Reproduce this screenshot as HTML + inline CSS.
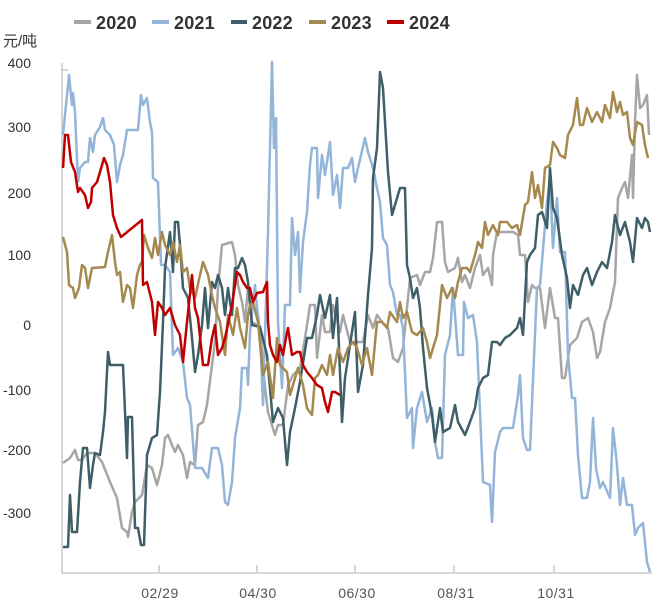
<!DOCTYPE html>
<html><head><meta charset="utf-8"><style>
html,body{margin:0;padding:0;background:#fff;}
svg{display:block;}
text{font-family:"Liberation Sans","Noto Sans CJK SC",sans-serif;}
</style></head><body>
<svg width="663" height="604" viewBox="0 0 663 604" xmlns="http://www.w3.org/2000/svg">
<rect width="663" height="604" fill="#fff"/>
<g font-size="18" font-weight="bold" fill="#333" letter-spacing="0.2">
<line x1="74" y1="22" x2="91" y2="22" stroke="#a6a6a6" stroke-width="4"/><text x="96" y="29">2020</text>
<line x1="152" y1="22" x2="169" y2="22" stroke="#93b5d9" stroke-width="4"/><text x="174" y="29">2021</text>
<line x1="231" y1="22" x2="247" y2="22" stroke="#3f5f68" stroke-width="4"/><text x="252" y="29">2022</text>
<line x1="309" y1="22" x2="326" y2="22" stroke="#a6894f" stroke-width="4"/><text x="331" y="29">2023</text>
<line x1="387" y1="22" x2="404" y2="22" stroke="#c00000" stroke-width="4"/><text x="409" y="29">2024</text>
</g>
<text x="3" y="46" font-size="15" fill="#333">元/吨</text>
<g font-size="14" fill="#333" text-anchor="end">
<text x="31" y="68">400</text><text x="31" y="132">300</text><text x="31" y="198">200</text>
<text x="31" y="260">100</text><text x="31" y="330">0</text><text x="31" y="395">-100</text>
<text x="31" y="455">-200</text><text x="31" y="518">-300</text>
</g>
<g stroke="#c8c8c8" stroke-width="1.5" fill="none">
<line x1="62" y1="63" x2="62" y2="573"/>
<line x1="62" y1="573" x2="652" y2="573"/>
<line x1="62" y1="70" x2="68" y2="70"/>
<line x1="159" y1="565" x2="159" y2="573"/><line x1="257" y1="565" x2="257" y2="573"/>
<line x1="355" y1="565" x2="355" y2="573"/><line x1="454" y1="565" x2="454" y2="573"/>
<line x1="554" y1="565" x2="554" y2="573"/>
</g>
<g font-size="14" fill="#555" text-anchor="middle" letter-spacing="0.5">
<text x="160" y="598">02/29</text><text x="258" y="598">04/30</text><text x="357" y="598">06/30</text>
<text x="456" y="598">08/31</text><text x="556" y="598">10/31</text>
</g>
<g fill="none" stroke-width="2.5" stroke-linejoin="round">
<polyline stroke="#a6a6a6" points="63,463 70,458 75,450 78,460 82,460 87,453 95,453 102,462 110,482 117,498 122,528 127,532 128,537 132,512 135,502 142,495 147,465 152,468 157,485 162,465 165,438 168,435 172,445 175,452 178,445 183,455 187,478 190,462 195,465 198,425 203,422 207,405 212,365 215,342 218,288 222,245 232,242 235,255 238,285 242,302 245,322 248,288 252,322 260,327 265,388 268,412 275,435 278,425 283,425 288,385 293,375 300,368 305,338 310,305 315,305 317,358 322,315 325,332 330,332 333,305 340,332 343,315 350,342 363,342 368,315 373,328 377,315 382,322 388,328 393,358 398,362 403,348 410,278 417,275 420,285 425,272 430,272 433,258 437,222 442,222 445,262 448,272 455,268 458,258 462,282 465,275 470,288 475,268 480,255 483,275 488,268 492,285 493,255 497,232 513,232 518,235 520,255 525,255 528,302 532,285 535,288 540,288 545,328 550,288 555,318 558,318 562,378 565,378 570,345 577,338 582,322 588,318 593,332 597,358 600,352 605,322 610,308 615,282 618,198 622,188 625,182 628,198 632,155 633,198 635,122 637,75 640,108 643,105 647,95 649,135"/>
<polyline stroke="#93b5d9" points="63,135 69,75 72,105 73,93 75,112 78,182 80,168 85,162 88,162 90,138 93,152 95,135 100,127 103,118 105,130 110,135 114,145 117,182 120,165 123,155 127,130 138,130 141,95 143,105 147,98 150,122 152,132 153,178 158,182 161,265 165,265 170,272 173,355 178,348 183,362 187,398 190,405 195,468 202,468 208,478 212,448 218,448 222,465 225,502 228,505 232,482 235,438 240,408 242,368 247,368 248,385 250,332 255,285 257,308 260,330 263,405 268,232 272,62 274,148 276,118 278,322 282,388 285,305 290,305 292,218 295,255 298,232 300,292 303,242 307,212 310,165 312,148 317,148 318,198 322,155 325,175 330,142 333,195 337,175 340,208 343,168 348,168 352,158 355,182 358,168 365,138 368,152 373,168 377,188 380,202 383,238 387,245 390,285 393,292 397,315 400,315 403,328 407,418 412,408 413,448 417,408 422,392 427,422 432,408 435,442 438,458 442,458 445,355 450,335 453,288 458,355 463,355 464,302 468,318 473,315 477,342 483,482 490,485 492,522 495,452 500,432 503,428 513,428 518,395 520,375 523,438 527,450 530,450 537,288 540,285 547,202 550,178 553,248 557,198 560,252 565,252 568,355 572,398 575,398 578,455 582,498 587,498 590,482 593,418 596,468 600,488 603,482 610,498 613,428 617,465 620,505 623,478 627,505 632,505 635,535 638,528 643,523 647,562 650,572"/>
<polyline stroke="#3f5f68" points="63,547 68,547 70,495 72,532 77,532 80,482 83,448 87,448 90,488 93,465 95,453 100,455 103,432 105,412 108,352 110,365 123,365 127,458 128,417 132,417 135,528 138,528 141,545 144,545 147,455 152,438 157,435 160,392 163,322 165,268 170,232 173,272 175,222 178,222 180,245 183,288 188,298 192,338 195,372 198,355 202,325 205,288 208,328 212,282 215,288 218,275 222,288 225,315 228,288 232,315 235,268 238,268 242,258 245,265 248,282 252,325 260,327 267,355 273,422 278,408 283,418 287,465 290,432 295,408 300,382 307,338 312,338 317,315 320,295 325,318 330,295 333,338 337,298 342,422 345,378 350,345 355,312 358,392 363,365 368,295 372,248 373,178 377,148 380,72 383,88 385,122 388,172 392,215 395,205 400,188 405,188 407,265 410,278 413,298 417,288 420,308 423,348 427,388 432,415 435,442 440,408 443,432 450,428 455,405 458,422 465,435 470,422 475,408 478,388 483,378 488,375 492,342 497,342 500,345 505,338 510,335 517,328 520,318 523,335 527,262 530,255 535,248 538,215 542,212 547,228 550,168 553,208 557,218 562,255 567,278 570,308 573,285 578,295 583,275 587,268 592,285 597,272 602,262 607,268 612,242 615,215 620,235 625,222 630,242 633,262 637,218 642,228 645,218 648,222 650,232"/>
<polyline stroke="#a6894f" points="63,237 67,252 69,285 73,288 75,298 79,288 82,265 85,268 88,288 92,268 105,267 108,252 112,235 115,262 117,275 120,272 123,302 127,285 130,288 133,308 137,275 140,265 142,262 144,235 148,248 152,258 155,238 158,255 162,232 165,245 170,255 173,242 177,262 180,245 183,272 187,268 190,288 195,298 200,275 203,262 208,275 212,295 215,308 220,322 225,355 228,315 233,335 237,308 240,328 245,348 248,315 250,305 253,302 258,322 263,375 268,362 273,398 277,338 280,365 287,372 290,395 293,385 298,368 303,385 307,408 312,415 315,378 318,375 322,365 327,375 330,355 333,375 338,348 343,362 348,348 353,342 357,348 362,365 367,348 372,375 377,322 382,322 387,328 390,312 397,322 400,302 403,318 407,312 412,332 417,335 423,328 427,342 430,358 433,348 437,335 442,285 447,298 452,288 455,298 458,282 462,268 467,268 470,272 475,255 478,242 482,248 485,222 488,235 493,225 498,235 500,222 507,222 512,228 517,225 520,235 525,205 528,202 532,172 535,198 538,185 542,208 545,168 550,165 553,142 557,148 560,155 565,158 568,135 573,125 577,98 580,125 583,125 587,108 592,122 597,112 602,122 605,105 610,118 613,92 617,112 620,102 623,115 627,112 630,138 633,145 637,122 642,125 645,145 648,158"/>
<polyline stroke="#c00000" points="63,168 65,135 68,135 71,162 75,172 78,192 80,188 85,195 88,208 91,202 92,188 97,182 100,172 102,165 104,158 107,165 110,182 113,215 117,228 121,237 142,220 143,285 147,282 152,302 155,335 158,302 162,308 165,315 170,308 175,325 180,335 183,362 187,322 192,275 195,308 198,318 203,365 208,365 212,338 215,325 218,355 222,348 225,338 232,305 237,272 240,275 243,282 247,288 250,288 253,302 257,293 263,292 267,282 268,322 270,345 273,355 277,362 280,345 283,355 287,332 288,328 292,355 297,352 300,352 303,365 307,372 312,378 317,385 322,388 325,402 328,412 332,392 335,392 340,395"/>
</g>
</svg>
</body></html>
